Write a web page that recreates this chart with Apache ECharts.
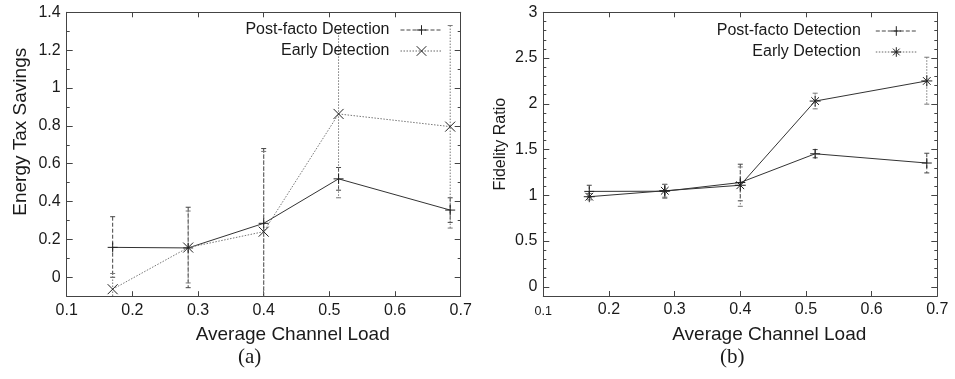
<!DOCTYPE html>
<html><head><meta charset="utf-8">
<script src="https://cdn.jsdelivr.net/npm/echarts@6/dist/echarts.min.js"></script>
<style>html,body{margin:0;padding:0;background:#fff}#c{width:955px;height:379px}</style>
</head><body><div id="c"></div>
<script>
// ---- data ----
const loadX = [0.17, 0.285, 0.4, 0.514, 0.684];
const xTickLabels = [0.1, 0.2, 0.3, 0.4, 0.5, 0.6, 0.7];
const energyTicks = [0, 0.2, 0.4, 0.6, 0.8, 1, 1.2, 1.4];
const fidelityTicks = [0, 0.5, 1, 1.5, 2, 2.5, 3];

const postEnergy     = [0.158, 0.155, 0.285, 0.52, 0.355];
const postEnergyLow  = [0.0, -0.055, -0.12, 0.46, 0.29];
const postEnergyHigh = [0.32, 0.37, 0.68, 0.58, 0.42];
const earlyEnergy     = [-0.063, 0.157, 0.241, 0.863, 0.796];
const earlyEnergyLow  = [-0.15, -0.03, -0.2, 0.42, 0.26];
const earlyEnergyHigh = [0.02, 0.35, 0.665, 1.31, 1.33];

const postFidelity     = [1.043, 1.045, 1.14, 1.454, 1.353];
const postFidelityLow  = [0.98, 0.97, 0.94, 1.41, 1.245];
const postFidelityHigh = [1.11, 1.12, 1.34, 1.50, 1.46];
const earlyFidelity     = [0.985, 1.05, 1.11, 2.03, 2.25];
const earlyFidelityLow  = [0.95, 0.98, 0.88, 1.945, 1.996];
const earlyFidelityHigh = [1.02, 1.12, 1.31, 2.116, 2.509];

const names = ['Post-facto Detection', 'Early Detection'];

// ---- styles ----
const FONT = 'Liberation Sans, Arial, Helvetica, sans-serif';
const AX = '#444';
const TXT = '#1a1a1a';
const PLUS = 'path://M0,5L10,5M5,0L5,10';
const CROSS = 'path://M0,0L10,10M10,0L0,10';
const STAR = 'path://M0,5L10,5M5,0L5,10M1.5,1.5L8.5,8.5M8.5,1.5L1.5,8.5';
const POST_DASH = [4, 2];
const EARLY_DASH = [1.5, 1.5];

const chart = echarts.init(document.getElementById('c'));

function pairs(ys) { return loadX.map((x, i) => [x, ys[i]]); }
function triples(lo, hi) { return loadX.map((x, i) => [x, lo[i], hi[i]]); }

function errRender(dash, color) {
  return function (params, api) {
    const x = api.value(0), lo = api.value(1), hi = api.value(2);
    const p1 = api.coord([x, hi]), p2 = api.coord([x, lo]);
    const w = 2.5;
    const st = { stroke: color, lineWidth: 1, lineDash: dash };
    const st2 = { stroke: color, lineWidth: 1 };
    return {
      type: 'group',
      children: [
        { type: 'line', shape: { x1: p1[0], y1: p1[1], x2: p2[0], y2: p2[1] }, style: st },
        { type: 'line', shape: { x1: p1[0] - w, y1: p1[1], x2: p1[0] + w, y2: p1[1] }, style: st2 },
        { type: 'line', shape: { x1: p2[0] - w, y1: p2[1], x2: p2[0] + w, y2: p2[1] }, style: st2 }
      ]
    };
  };
}

function errSeries(xi, yi, lo, hi, dash, color) {
  return {
    type: 'custom', xAxisIndex: xi, yAxisIndex: yi, clip: true, z: 1,
    renderItem: errRender(dash, color), encode: { x: 0, y: [1, 2] },
    data: triples(lo, hi), silent: true
  };
}

function lineSeries(name, xi, yi, ys, sym, size, lineColor, lineType) {
  return {
    type: 'line', name: name, xAxisIndex: xi, yAxisIndex: yi, z: 3,
    data: pairs(ys), symbol: sym, symbolSize: size, showSymbol: true,
    lineStyle: { color: lineColor, width: 1, type: lineType },
    itemStyle: { color: 'none', borderColor: '#222', borderWidth: 1 },
    emphasis: { disabled: true }, animation: false
  };
}

function xAx(grid, pos, labels, fmt) {
  return {
    type: 'value', gridIndex: grid, position: pos, min: 0.1, max: 0.7, interval: 0.1,
    axisLine: { show: true, onZero: false, lineStyle: { color: AX, width: 1 } },
    axisTick: { show: true, inside: true, length: 5, lineStyle: { color: AX } },
    axisLabel: labels ? Object.assign({ show: true, margin: 6, fontFamily: FONT, fontSize: 16, color: TXT }, fmt || {}) : { show: false },
    splitLine: { show: false }
  };
}

function yMinor(grid, pos, max, labelTicks, withLabel) {
  return {
    type: 'value', gridIndex: grid, position: pos, min: -0.1, max: max, interval: 0.1,
    axisLine: { show: true, onZero: false, lineStyle: { color: AX, width: 1 } },
    axisTick: { show: true, inside: true, length: 3, lineStyle: { color: AX } },
    axisLabel: withLabel ? { show: true, customValues: labelTicks, margin: 6, fontFamily: FONT, fontSize: 16, color: TXT } : { show: false },
    splitLine: { show: false }
  };
}
function yMajor(grid, pos, max, ticks) {
  return {
    type: 'value', gridIndex: grid, position: pos, min: -0.1, max: max,
    axisLine: { show: false },
    axisTick: { show: true, inside: true, length: 6, customValues: ticks, lineStyle: { color: AX } },
    axisLabel: { show: false },
    splitLine: { show: false }
  };
}

const xa0 = xAx(0, 'bottom', true);
xa0.name = 'Average Channel Load';
const xa2 = xAx(1, 'bottom', true, {
  formatter: v => (Math.abs(v - 0.1) < 1e-9 ? '{s|0.1}' : String(+v.toFixed(1))),
  rich: { s: { fontFamily: FONT, fontSize: 12.5, color: TXT, padding: [3, 0, 0, 0] } }
});
xa2.name = 'Average Channel Load';
[xa0, xa2].forEach(a => {
  a.nameLocation = 'middle'; a.nameGap = 29;
  a.nameTextStyle = { fontFamily: FONT, fontSize: 19, color: TXT, padding: [0, 0, 0, 58] };
});

const ya0 = yMinor(0, 'left', 1.4, energyTicks, true);
ya0.name = 'Energy Tax Savings';
ya0.nameLocation = 'middle'; ya0.nameGap = 36; ya0.nameRotate = 90;
ya0.nameTextStyle = { fontFamily: FONT, fontSize: 19, color: TXT, padding: [0, 0, 0, 45] };
const ya4 = yMinor(1, 'left', 3, fidelityTicks, true);
ya4.name = 'Fidelity Ratio';
ya4.nameLocation = 'middle'; ya4.nameGap = 35; ya4.nameRotate = 90;
ya4.nameTextStyle = { fontFamily: FONT, fontSize: 16, color: TXT, padding: [0, 0, 0, 20] };

function legendItem(name, dash, color) {
  return { name: name, lineStyle: { type: dash, color: color, width: 1 },
           itemStyle: { color: 'none', borderColor: '#222', borderWidth: 1 } };
}

const option = {
  animation: false,
  backgroundColor: '#fff',
  title: [
    { text: '(a)', left: 238, top: 347, padding: 0, textStyle: { fontFamily: 'Liberation Serif, Times New Roman, serif', fontSize: 21, fontWeight: 'normal', color: TXT } },
    { text: '(b)', left: 720, top: 347, padding: 0, textStyle: { fontFamily: 'Liberation Serif, Times New Roman, serif', fontSize: 21, fontWeight: 'normal', color: TXT } }
  ],
  grid: [
    { left: 66.7, right: 494.3, top: 12.3, bottom: 82.8, containLabel: false },
    { left: 543.3, right: 17.7, top: 12.3, bottom: 83, containLabel: false }
  ],
  legend: [
    {
      orient: 'vertical', right: 512, top: 22, align: 'right', padding: 0,
      itemWidth: 42, itemHeight: 12, itemGap: 5, selectedMode: false,
      textStyle: { fontFamily: FONT, fontSize: 16, color: TXT, padding: [0, 6, 0, 0] },
      data: [legendItem(names[0], POST_DASH, '#444'), legendItem(names[1], EARLY_DASH, '#666')]
    },
    {
      orient: 'vertical', right: 37.7, top: 23, align: 'right', padding: 0,
      itemWidth: 41, itemHeight: 12, itemGap: 5, selectedMode: false,
      formatter: n => n.replace(' (b)', ''),
      textStyle: { fontFamily: FONT, fontSize: 16, color: TXT, padding: [0, 10, 0, 0] },
      data: [legendItem(names[0] + ' (b)', POST_DASH, '#444'), legendItem(names[1] + ' (b)', EARLY_DASH, '#666')]
    }
  ],
  xAxis: [xa0, xAx(0, 'top', false), xa2, xAx(1, 'top', false)],
  yAxis: [
    ya0, yMajor(0, 'left', 1.4, energyTicks), yMinor(0, 'right', 1.4, energyTicks, false), yMajor(0, 'right', 1.4, energyTicks),
    ya4, yMajor(1, 'left', 3, fidelityTicks), yMinor(1, 'right', 3, fidelityTicks, false), yMajor(1, 'right', 3, fidelityTicks)
  ],
  series: [
    errSeries(0, 0, postEnergyLow, postEnergyHigh, POST_DASH, '#444'),
    errSeries(0, 0, earlyEnergyLow, earlyEnergyHigh, EARLY_DASH, '#777'),
    lineSeries(names[0], 0, 0, postEnergy, PLUS, 10, '#333', 'solid'),
    lineSeries(names[1], 0, 0, earlyEnergy, CROSS, 10, '#777', [1.5, 1.5]),
    errSeries(2, 4, postFidelityLow, postFidelityHigh, POST_DASH, '#444'),
    errSeries(2, 4, earlyFidelityLow, earlyFidelityHigh, EARLY_DASH, '#777'),
    lineSeries(names[0] + ' (b)', 2, 4, postFidelity, PLUS, 10, '#333', 'solid'),
    lineSeries(names[1] + ' (b)', 2, 4, earlyFidelity, STAR, 11, '#333', 'solid')
  ]
};
chart.setOption(option);
</script>
</body></html>
